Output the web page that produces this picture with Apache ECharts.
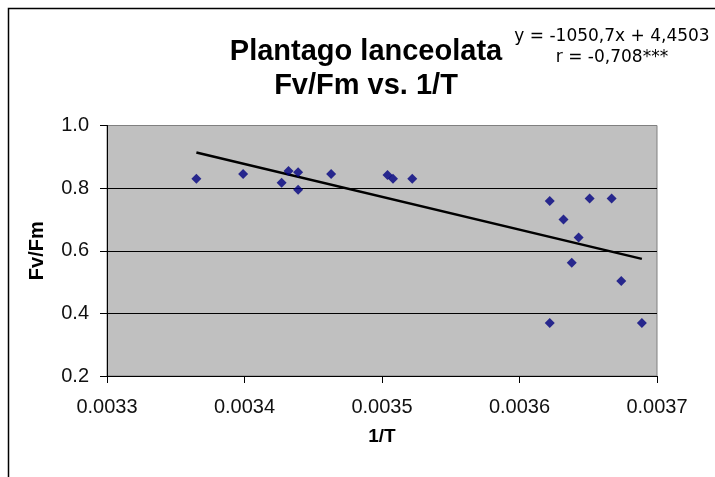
<!DOCTYPE html>
<html>
<head>
<meta charset="utf-8">
<script src="https://cdn.jsdelivr.net/npm/echarts@6/dist/echarts.min.js"></script>
<style>
html,body{margin:0;padding:0;background:#fff;}
#chart{width:715px;height:477px;}
</style>
</head>
<body>
<div id="chart"></div>
<script>
// Data
var invT = [0.003365, 0.003399, 0.003427, 0.003432, 0.003439, 0.003439, 0.003463, 0.003504, 0.003508, 0.003522,
            0.003622, 0.003632, 0.003643, 0.003638, 0.003651, 0.003667, 0.003674, 0.003622, 0.003689];
var fvfm = [0.830, 0.845, 0.817, 0.855, 0.851, 0.795, 0.845, 0.842, 0.830, 0.830,
            0.759, 0.700, 0.642, 0.562, 0.767, 0.767, 0.503, 0.369, 0.369];
var trendX = [0.003365, 0.003689];
var trendY = [0.914, 0.574];
var titleLines = ['Plantago lanceolata', 'Fv/Fm vs. 1/T'];
var equationLines = ['y = -1050,7x + 4,4503', 'r = -0,708***'];

var points = invT.map(function (x, i) { return [x, fvfm[i]]; });
var trend = trendX.map(function (x, i) { return [x, trendY[i]]; });

var chart = echarts.init(document.getElementById('chart'), null, {renderer: 'canvas'});
chart.setOption({
  backgroundColor: '#ffffff',
  animation: false,
  title: [{
    text: titleLines.join('\n'),
    left: 366, top: 35.5, textAlign: 'center', padding: 0,
    textStyle: {fontFamily: 'Liberation Sans, Arial', fontWeight: 'bold', fontSize: 29, lineHeight: 33.5, color: '#000'}
  }, {
    text: equationLines.join('\n'),
    left: 612, top: 26, textAlign: 'center', padding: 0,
    textStyle: {fontFamily: 'DejaVu Sans', fontWeight: 'normal', fontSize: 17, lineHeight: 21, color: '#000'}
  }],
  graphic: [{
    type: 'rect', silent: true, z: -1,
    shape: {x: 8.5, y: 8.5, width: 730, height: 490},
    style: {fill: 'none', stroke: '#000', lineWidth: 1.5}
  }],
  grid: {
    left: 107, right: 58, top: 125.5, bottom: 101,
    show: true, backgroundColor: '#c0c0c0', borderColor: '#808080', borderWidth: 1
  },
  xAxis: {
    type: 'value', min: 0.0033, max: 0.0037, interval: 0.0001,
    name: '1/T', nameLocation: 'middle', nameGap: 51,
    nameTextStyle: {fontFamily: 'Liberation Sans, Arial', fontWeight: 'bold', fontSize: 19, color: '#000'},
    axisLine: {show: true, onZero: false, lineStyle: {color: '#000', width: 1}},
    axisTick: {show: true, inside: false, length: 7, lineStyle: {color: '#000'}},
    axisLabel: {margin: 21, fontFamily: 'Liberation Sans, Arial', fontSize: 20, color: '#111',
      formatter: function (v) { return v.toFixed(4); }},
    splitLine: {show: false}
  },
  yAxis: {
    type: 'value', min: 0.2, max: 1.0, interval: 0.2,
    name: 'Fv/Fm', nameLocation: 'middle', nameGap: 60, nameRotate: 90,
    nameTextStyle: {fontFamily: 'Liberation Sans, Arial', fontWeight: 'bold', fontSize: 20, color: '#000'},
    axisLine: {show: true, onZero: false, lineStyle: {color: '#000', width: 1}},
    axisTick: {show: true, inside: false, length: 7, lineStyle: {color: '#000'}},
    axisLabel: {margin: 18, fontFamily: 'Liberation Sans, Arial', fontSize: 20, color: '#111',
      formatter: function (v) { return v.toFixed(1); }},
    splitLine: {show: true, lineStyle: {color: ['#000', '#000', '#000', '#000', '#808080'], width: 1}}
  },
  series: [{
    type: 'line', data: trend, showSymbol: false, symbol: 'none', z: 2,
    lineStyle: {color: '#000', width: 2.5}, silent: true
  }, {
    type: 'scatter', data: points, symbol: 'diamond', symbolSize: [10, 10], z: 3,
    itemStyle: {color: '#000080'}
  }]
});
</script>
</body>
</html>
